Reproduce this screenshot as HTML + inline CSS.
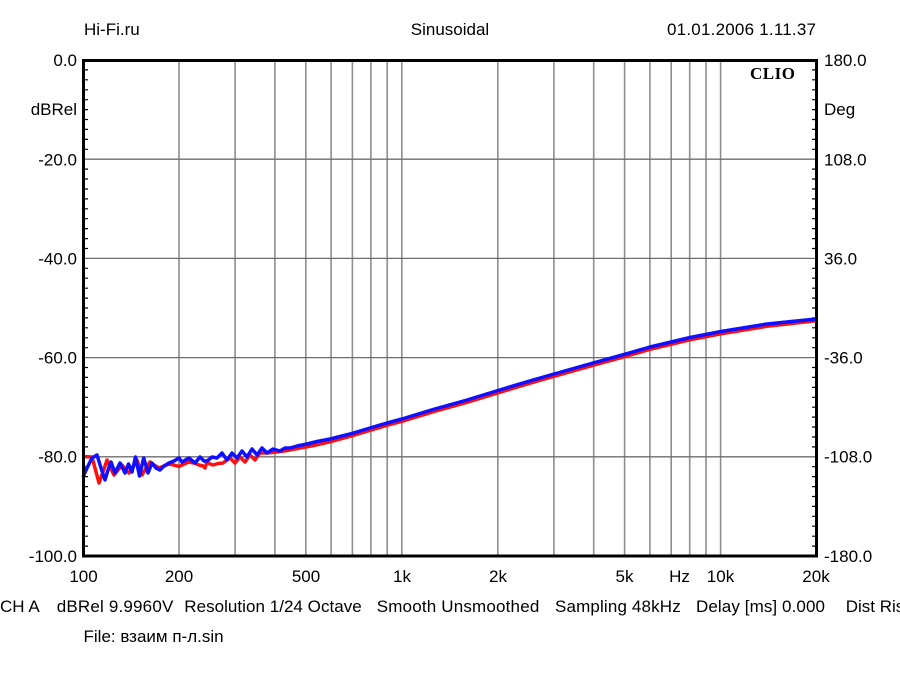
<!DOCTYPE html>
<html><head><meta charset="utf-8"><style>
html,body{margin:0;padding:0;background:#fff;}
svg{display:block;}
text{font-family:"Liberation Sans","DejaVu Sans",sans-serif;font-size:17px;fill:#000;}
</style></head><body>
<svg width="900" height="675" viewBox="0 0 900 675" xmlns="http://www.w3.org/2000/svg">
<rect x="0" y="0" width="900" height="675" fill="#fff"/>
<!-- grid -->
<g stroke="#8e8e8e" stroke-width="1.6" fill="none">
<line x1="179" y1="60" x2="179" y2="556"/>
<line x1="235.1" y1="60" x2="235.1" y2="556"/>
<line x1="274.9" y1="60" x2="274.9" y2="556"/>
<line x1="305.8" y1="60" x2="305.8" y2="556"/>
<line x1="331.1" y1="60" x2="331.1" y2="556"/>
<line x1="352.4" y1="60" x2="352.4" y2="556"/>
<line x1="370.9" y1="60" x2="370.9" y2="556"/>
<line x1="387.2" y1="60" x2="387.2" y2="556"/>
<line x1="401.8" y1="60" x2="401.8" y2="556"/>
<line x1="497.8" y1="60" x2="497.8" y2="556"/>
<line x1="553.9" y1="60" x2="553.9" y2="556"/>
<line x1="593.7" y1="60" x2="593.7" y2="556"/>
<line x1="624.6" y1="60" x2="624.6" y2="556"/>
<line x1="649.9" y1="60" x2="649.9" y2="556"/>
<line x1="671.2" y1="60" x2="671.2" y2="556"/>
<line x1="689.7" y1="60" x2="689.7" y2="556"/>
<line x1="706" y1="60" x2="706" y2="556"/>
<line x1="720.6" y1="60" x2="720.6" y2="556"/>
</g>
<g stroke="#6e6e6e" stroke-width="1.3">
<line x1="83" y1="159.2" x2="817" y2="159.2"/>
<line x1="83" y1="258.4" x2="817" y2="258.4"/>
<line x1="83" y1="357.6" x2="817" y2="357.6"/>
<line x1="83" y1="456.8" x2="817" y2="456.8"/>
</g>
<!-- minor ticks -->
<g stroke="#000" stroke-width="1.2">
<path d="M83 69.9h5M83 79.8h5M83 89.8h5M83 99.7h5M83 109.6h5M83 119.5h5M83 129.4h5M83 139.4h5M83 149.3h5M83 169.1h5M83 179h5M83 189h5M83 198.9h5M83 208.8h5M83 218.7h5M83 228.6h5M83 238.6h5M83 248.5h5M83 268.3h5M83 278.2h5M83 288.2h5M83 298.1h5M83 308h5M83 317.9h5M83 327.8h5M83 337.8h5M83 347.7h5M83 367.5h5M83 377.4h5M83 387.4h5M83 397.3h5M83 407.2h5M83 417.1h5M83 427h5M83 437h5M83 446.9h5M83 466.7h5M83 476.6h5M83 486.6h5M83 496.5h5M83 506.4h5M83 516.3h5M83 526.2h5M83 536.2h5M83 546.1h5"/>
<path d="M817 69.9h-5M817 79.8h-5M817 89.8h-5M817 99.7h-5M817 109.6h-5M817 119.5h-5M817 129.4h-5M817 139.4h-5M817 149.3h-5M817 169.1h-5M817 179h-5M817 189h-5M817 198.9h-5M817 208.8h-5M817 218.7h-5M817 228.6h-5M817 238.6h-5M817 248.5h-5M817 268.3h-5M817 278.2h-5M817 288.2h-5M817 298.1h-5M817 308h-5M817 317.9h-5M817 327.8h-5M817 337.8h-5M817 347.7h-5M817 367.5h-5M817 377.4h-5M817 387.4h-5M817 397.3h-5M817 407.2h-5M817 417.1h-5M817 427h-5M817 437h-5M817 446.9h-5M817 466.7h-5M817 476.6h-5M817 486.6h-5M817 496.5h-5M817 506.4h-5M817 516.3h-5M817 526.2h-5M817 536.2h-5M817 546.1h-5"/>
</g>
<!-- curves -->
<polyline fill="none" stroke="#ff1010" stroke-width="3.5" stroke-linejoin="round" points="83,456.5 92,457 95,468 99,483 103,472 107,460 110,467 114,475 118,470 122,465 126,470 129,473 133,467 137,460 142,475 146,468 150,462 154,465 159,468 164,466 169,464 174,465 179,466.5 184,464 189,462 194,463 199,465 203,466 205,468 207,462 210,464 213,465 218,463.5 223,463 227,460 230,458 235,463 240,457 245,462 250,455 255,460 260,453 267,453 277,452 287,450.5 300,448 313,445.7 330,441.8 350,436.3 370,430.3 387,425.3 402,421.3 433,411.8 467,402.3 498,392.8 533,382.3 554,376.3 593,365.3 624,356.8 650,349.3 690,339.8 721,333.8 767,326.3 816,320.8"/>
<polyline fill="none" stroke="#1010ff" stroke-width="3.5" stroke-linejoin="round" points="83,477 87,468 92,458 97,455 101,468 105,480 108,470 111,462 115,473 120,463 125,473 128.5,464 132,472 135.5,457 139.5,476 143.7,458 148,473 152,463 156,468 160,470 164,466 169,463 174,461 179,458 182,462 189,458 195,463 200,457 204,461 207,461 212,457 217,458 222,453 227,460 232,453 237,458 242,451 247,457 252,449 257,455 262,448 267,453 273,449 280,451 285,448 290,448 297,446 307,444 317,441.5 330,439 350,434 370,428 387,423 402,419 433,409.5 467,400 498,390.5 533,380 554,374 593,363 624,354.5 650,347 690,337.5 721,331.5 767,324 816,319"/>
<!-- frame -->
<rect x="83.5" y="60.5" width="733" height="495.5" fill="none" stroke="#000" stroke-width="3"/>
<!-- CLIO -->
<text x="750" y="79" textLength="45" style="font-family:'Liberation Serif',serif;font-weight:bold;font-size:17px">CLIO</text>
<!-- header -->
<text x="84" y="35">Hi-Fi.ru</text>
<text x="450" y="35" text-anchor="middle">Sinusoidal</text>
<text x="667" y="35" textLength="149">01.01.2006 1.11.37</text>
<!-- left axis -->
<g text-anchor="end">
<text x="77" y="66">0.0</text>
<text x="77" y="115">dBRel</text>
<text x="77" y="165.5">-20.0</text>
<text x="77" y="264.5">-40.0</text>
<text x="77" y="363.5">-60.0</text>
<text x="77" y="462.5">-80.0</text>
<text x="77" y="562">-100.0</text>
</g>
<!-- right axis -->
<text x="824" y="66">180.0</text>
<text x="824" y="115">Deg</text>
<text x="824" y="165.5">108.0</text>
<text x="824" y="264.5">36.0</text>
<text x="824" y="363.5">-36.0</text>
<text x="824" y="462.5">-108.0</text>
<text x="824" y="562">-180.0</text>
<!-- x axis -->
<g text-anchor="middle">
<text x="83.5" y="582">100</text>
<text x="179" y="582">200</text>
<text x="306" y="582">500</text>
<text x="402" y="582">1k</text>
<text x="498" y="582">2k</text>
<text x="624.5" y="582">5k</text>
<text x="679.5" y="582">Hz</text>
<text x="720.5" y="582">10k</text>
<text x="816" y="582">20k</text>
</g>
<!-- info line -->
<text x="0" y="612">CH A</text>
<text x="56.7" y="612" textLength="116.6">dBRel 9.9960V</text>
<text x="184.3" y="612" textLength="177.4">Resolution 1/24 Octave</text>
<text x="376.7" y="612" textLength="162.6">Smooth Unsmoothed</text>
<text x="555" y="612" textLength="125.7">Sampling 48kHz</text>
<text x="696" y="612" textLength="129">Delay [ms] 0.000</text>
<text x="845.7" y="612">Dist Rise</text>
<text x="83.5" y="642">File: взаим п-л.sin</text>
</svg>
</body></html>
